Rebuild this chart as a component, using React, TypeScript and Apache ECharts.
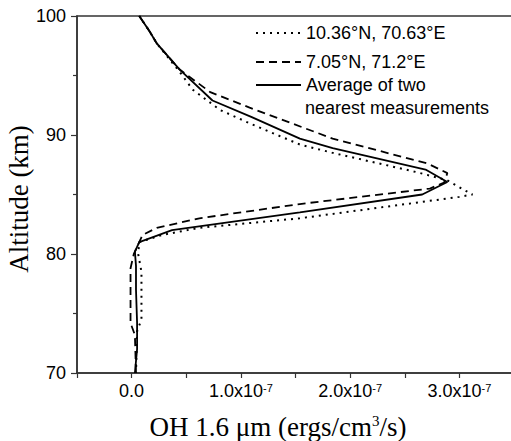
import React, { useEffect, useRef } from "react";
import * as echarts from "echarts";

// Series names (legend)
const nameNorth = "10.36°N, 70.63°E";
const nameSouth = "7.05°N, 71.2°E";
const nameAvg = "Average of two";
const nameAvgLine2 = " nearest measurements";

// OH 1.6 µm emission (ergs/cm^3/s) vs altitude (km)
const ohNorth = [0.07e-7, 0.165e-7, 0.23e-7, 0.44e-7, 0.56e-7, 0.81e-7, 1.1e-7, 1.54e-7, 1.84e-7, 2.6e-7, 2.89e-7, 3.04e-7, 3.12e-7, 3.0e-7, 1.54e-7, 0.62e-7, 0.28e-7, 0.07e-7, 0.06e-7, 0.09e-7, 0.09e-7, 0.05e-7, 0.04e-7];
const altNorth = [100, 98.7, 97.7, 95.3, 93.8, 92.1, 90.9, 89.2, 88.5, 86.9, 86.2, 85.4, 85.0, 84.8, 83.0, 82.2, 81.6, 81.0, 80.0, 78.5, 74.5, 73.5, 70];

const ohSouth = [0.07e-7, 0.165e-7, 0.23e-7, 0.44e-7, 0.72e-7, 1.08e-7, 1.84e-7, 2.71e-7, 2.89e-7, 2.86e-7, 2.73e-7, 1.54e-7, 0.62e-7, 0.23e-7, 0.1e-7, 0.07e-7, 0.02e-7, -0.01e-7, -0.01e-7, 0.03e-7, 0.04e-7];
const altSouth = [100, 98.7, 97.7, 95.5, 93.6, 92.3, 89.7, 87.6, 86.8, 86.0, 85.5, 84.2, 83.0, 82.2, 81.6, 81.0, 80.0, 78.8, 74.2, 73.2, 70];

const ohAvg = [0.07e-7, 0.165e-7, 0.23e-7, 0.44e-7, 0.74e-7, 1.1e-7, 1.54e-7, 1.84e-7, 2.69e-7, 2.89e-7, 2.66e-7, 1.54e-7, 0.37e-7, 0.07e-7, 0.03e-7, 0.04e-7, 0.04e-7, 0.05e-7, 0.05e-7, 0.03e-7];
const altAvg = [100, 98.7, 97.7, 95.5, 92.9, 91.5, 89.7, 88.9, 87.1, 86.05, 85.0, 83.5, 82.0, 81.0, 80.2, 79, 77, 74.2, 72, 70];

// Axis settings
const xMin = -0.5e-7;
const xMax = 3.5e-7;
const xStep = 0.5e-7;
const yMin = 70;
const yMax = 100;
const yStep = 10;

const pairs = (xs: number[], ys: number[]) => xs.map((x, i) => [x, ys[i]]);

const sansFont = "'Liberation Sans', Arial, sans-serif";
const serifFont = "'Liberation Serif', 'Times New Roman', serif";

export default function App() {
  const ref = useRef<HTMLDivElement>(null);

  useEffect(() => {
    if (!ref.current) return;
    const chart = echarts.init(ref.current, undefined, { renderer: "svg" });
    const axisColor = "#333";
    const legendBase = {
      orient: "vertical" as const,
      left: 255,
      itemWidth: 45,
      itemHeight: 14,
      itemGap: 0,
      padding: 0,
      selectedMode: false,
      itemStyle: { opacity: 0 },
      textStyle: { fontSize: 18, fontFamily: sansFont, color: "#000" },
    };
    chart.setOption({
      animation: false,
      backgroundColor: "#fff",
      grid: {
        left: 77,
        top: 16,
        width: 437,
        height: 357,
        show: true,
        borderColor: axisColor,
        borderWidth: 1.5,
        backgroundColor: "transparent",
        containLabel: false,
        outerBoundsMode: "none",
      },
      legend: [
        { ...legendBase, top: 24, data: [nameNorth] },
        { ...legendBase, top: 53, data: [nameSouth] },
        { ...legendBase, top: 76, data: [nameAvg] },
      ],
      graphic: [
        {
          type: "text",
          left: 300,
          top: 99,
          style: {
            text: nameAvgLine2,
            fontSize: 18,
            fontFamily: sansFont,
            fill: "#000",
          },
        },
      ],
      xAxis: {
        type: "value",
        min: xMin,
        max: xMax,
        interval: xStep,
        splitLine: { show: false },
        axisLine: { show: true, onZero: false, lineStyle: { color: axisColor, width: 1.5 } },
        axisTick: { show: true, length: 5, lineStyle: { color: axisColor, width: 1.2 } },
        axisLabel: {
          margin: 9,
          fontSize: 18,
          fontFamily: sansFont,
          color: "#000",
          showMinLabel: true,
          showMaxLabel: true,
          formatter: (v: number) => {
            const k = Math.round(v * 1e8) / 10;
            if (k < 0 || Math.abs(k - Math.round(k)) > 1e-6) return "";
            if (Math.round(k) === 0) return "0.0";
            return `${k.toFixed(1)}x10{sup|-7}`;
          },
          rich: {
            sup: { fontSize: 11, verticalAlign: "top", fontFamily: sansFont, color: "#000" },
          },
        },
        name: "OH 1.6 μm (ergs/cm{sup|3}/s)",
        nameLocation: "middle",
        nameGap: 40,
        nameTextStyle: {
          fontSize: 27,
          fontFamily: serifFont,
          color: "#000",
          padding: [0, 35, 0, 0],
          rich: {
            sup: { fontSize: 15, verticalAlign: "top", fontFamily: serifFont, color: "#000" },
          },
        },
      },
      yAxis: {
        type: "value",
        min: yMin,
        max: yMax,
        interval: yStep,
        splitLine: { show: false },
        axisLine: { show: true, onZero: false, lineStyle: { color: axisColor, width: 1.5 } },
        axisTick: { show: true, length: 6, lineStyle: { color: axisColor, width: 1.2 } },
        minorTick: { show: true, splitNumber: 2, length: 4, lineStyle: { color: axisColor, width: 1.2 } },
        minorSplitLine: { show: false },
        axisLabel: {
          margin: 11,
          fontSize: 18,
          fontFamily: sansFont,
          color: "#000",
        },
        name: "Altitude (km)",
        nameLocation: "middle",
        nameGap: 45,
        nameMoveOverlap: false,
        nameTextStyle: {
          fontSize: 27,
          fontFamily: serifFont,
          color: "#000",
          padding: [0, 9, 0, 0],
        },
      },
      series: [
        {
          name: nameNorth,
          type: "line",
          data: pairs(ohNorth, altNorth),
          symbol: "none",
          lineStyle: { color: "#000", width: 2, type: [2, 5] },
          itemStyle: { color: "#000" },
        },
        {
          name: nameSouth,
          type: "line",
          data: pairs(ohSouth, altSouth),
          symbol: "none",
          lineStyle: { color: "#000", width: 1.8, type: [8, 5] },
          itemStyle: { color: "#000" },
        },
        {
          name: nameAvg,
          type: "line",
          data: pairs(ohAvg, altAvg),
          symbol: "none",
          lineStyle: { color: "#000", width: 1.8, type: "solid" },
          itemStyle: { color: "#000" },
        },
      ],
    });
    return () => chart.dispose();
  }, []);

  return <div ref={ref} style={{ width: 511, height: 441, position: "absolute", left: 0, top: 0 }} />;
}
